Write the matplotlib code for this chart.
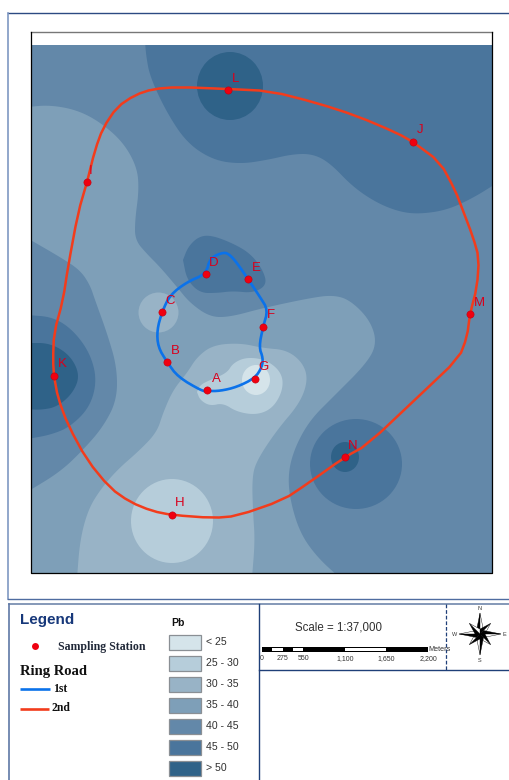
import numpy as np
import matplotlib
matplotlib.use("Agg")
import matplotlib.pyplot as plt
from matplotlib.patches import Rectangle, Ellipse, Polygon

SANS = "Liberation Sans"
SERIF = "Liberation Serif"

# ---- classes
class_labels = ["< 25", "25 - 30", "30 - 35", "35 - 40", "40 - 45", "45 - 50", "> 50"]
class_colors = ["#d5e4ea", "#b6cdda", "#98b3c6", "#7e9fb8", "#6388a9", "#4a759c", "#2f6288"]

# ---- map regions (image-pixel coordinates): class index, smooth boundary pieces joined by straight edges
top_45 = [(145, 40), (146, 55), (150, 77), (167, 113), (187, 143), (213, 160), (240, 164), (267, 160),
          (293, 154), (313, 154), (330, 163), (353, 187), (377, 203), (400, 212), (420, 214),
          (447, 210), (473, 198), (497, 183)]
top_45_close = [(497, 40)]
mid_35 = [(27, 107), (50, 105), (77, 110), (100, 122), (123, 142), (137, 167), (139, 190), (135, 220),
          (135, 240), (147, 254), (160, 267), (177, 287), (190, 303), (210, 317), (230, 317),
          (263, 308), (310, 298), (333, 295), (350, 300), (370, 320), (377, 343), (367, 363),
          (333, 397), (310, 420), (295, 447), (288, 473), (290, 500), (300, 533), (317, 557), (340, 578)]
mid_35_corner = [(27, 578)]
mid_35_left = [(27, 492), (60, 472), (83, 450), (103, 427), (117, 400), (117, 367),
               (107, 333), (95, 300), (90, 285), (80, 270), (60, 257), (27, 238)]
low_30 = [(77, 578), (80, 540), (88, 510), (100, 490), (117, 470), (140, 450), (157, 432), (163, 413),
          (173, 390), (187, 373), (197, 357), (213, 345), (240, 343), (263, 348), (287, 350),
          (303, 363), (308, 380), (300, 403), (277, 430), (257, 460), (252, 477), (253, 513),
          (255, 540), (252, 578)]
core_25 = [(197, 392), (200, 385), (210, 380), (227, 373), (233, 363), (247, 357), (267, 360), (282, 373),
           (283, 390), (273, 408), (257, 415), (237, 412), (223, 403), (210, 406), (200, 400), (197, 392)]
k_45 = [(27, 315), (53, 317), (73, 330), (90, 353), (97, 380), (90, 407), (70, 427), (50, 435), (27, 439)]
k_50 = [(27, 343), (50, 343), (70, 355), (80, 375), (73, 393), (57, 407), (40, 410), (27, 409)]
de_45 = [(183, 260), (188, 247), (198, 237), (210, 235), (230, 242), (250, 253), (263, 270), (267, 285),
         (253, 293), (233, 291), (217, 293), (200, 293), (187, 280), (183, 260)]
regions = [(5, [top_45], top_45_close), (3, [mid_35, mid_35_left], mid_35_corner), (5, [de_45], []),
           (2, [low_30], []), (1, [core_25], []), (5, [k_45], []), (6, [k_50], [])]
# ellipses: class index, cx, cy, rx, ry
blobs = [(6, 230, 86, 33, 34), (2, 158.5, 312.5, 20, 20), (0, 256, 380, 14, 15), (1, 172, 521, 41, 42),
         (5, 356, 464, 46, 45), (6, 345, 457, 14, 15)]

# ---- roads
ring_1st = [(207, 391), (220, 391), (237, 387), (255, 378), (262, 367), (263, 358), (259, 347), (263, 327),
            (268, 310), (260, 297), (248, 279), (237, 263), (230, 255), (224, 252), (210, 258), (206, 274),
            (187, 282), (170, 295), (162, 312), (157, 330), (158, 347), (167, 362), (178, 377), (202, 391), (207, 391)]
ring_2nd = [(87, 182), (95, 150), (103, 128), (117, 107), (135, 95), (153, 89), (178, 87), (228, 89), (270, 91),
            (317, 103), (357, 116), (397, 133), (413, 142), (440, 162), (455, 190), (462, 208), (473, 237),
            (479, 258), (477, 287), (470, 314), (467, 337), (459, 358), (420, 395), (367, 445), (345, 457),
            (307, 484), (283, 500), (237, 516), (213, 518), (172, 515), (152, 511), (130, 502), (110, 488),
            (87, 460), (68, 425), (58, 398), (54, 376), (53, 360), (54, 333), (63, 300), (68, 267), (78, 213), (87, 182)]

# ---- stations
station_names = ["A", "B", "C", "D", "E", "F", "G", "H", "I", "J", "K", "L", "M", "N"]
station_x = [207, 167, 162, 206, 248, 263, 255, 172, 87, 413, 54, 228, 470, 345]
station_y = [390, 362, 312, 274, 279, 327, 379, 515, 182, 142, 376, 90, 314, 457]
label_dx = [9, 8, 8, 8, 8, 8, 9, 8, 4, 7, 8, 8, 9, 8]
label_dy = [-11, -11, -11, -11, -11, -12, -12, -12, -11, -12, -12, -11, -11, -11]

# ---- scale bar
scale_values = [0, 275, 550, 1100, 1650, 2200]
scale_labels = ["0", "275", "550", "1,100", "1,650", "2,200"]
scale_white = [(137.5, 275), (412.5, 550), (1100, 1650)]


def chaikin(pts, n=3):
    p = np.asarray(pts, float)
    for _ in range(n):
        q = 0.75 * p[:-1] + 0.25 * p[1:]
        r = 0.25 * p[:-1] + 0.75 * p[1:]
        mid = np.empty((2 * len(q), 2))
        mid[0::2], mid[1::2] = q, r
        p = np.vstack([p[:1], mid, p[-1:]])
    return p


fig = plt.figure(figsize=(5.09, 7.80), dpi=100, facecolor="white")
ax = fig.add_axes([0, 0, 1, 1])
ax.set_xlim(0, 509)
ax.set_ylim(780, 0)
ax.axis("off")

# outer frame
NAVY = "#1f3f78"
ax.plot([8, 509], [13, 13], color="#2c4a82", lw=1.0)
ax.plot([8, 8], [13, 598.5], color="#7f98c2", lw=1.2)
ax.plot([8, 509], [598.5, 598.5], color="#4f6ca0", lw=1.0)

# map
MX0, MX1, MY0, MY1 = 31.5, 492.5, 44.5, 573
clip = Rectangle((MX0, MY0), MX1 - MX0, MY1 - MY0, transform=ax.transData)
ax.add_patch(Rectangle((MX0, MY0), MX1 - MX0, MY1 - MY0, fc=class_colors[4], ec="none", zorder=1.1))
z = 1.2
for idx, pieces, corners in regions:
    parts = [chaikin(pieces[0])]
    if corners:
        parts.append(np.asarray(corners, float))
    for extra in pieces[1:]:
        parts.append(chaikin(extra))
    pg = Polygon(np.vstack(parts), closed=True, fc=class_colors[idx], ec="none", zorder=z)
    ax.add_patch(pg)
    pg.set_clip_path(clip)
    z += 0.01
for idx, cx, cy, rx, ry in blobs:
    e = Ellipse((cx, cy), 2 * rx, 2 * ry, fc=class_colors[idx], ec="none", zorder=z)
    ax.add_patch(e)
    e.set_clip_path(clip)
    z += 0.01
ax.plot([MX0, MX1], [32, 32], color="#777777", lw=1.0, zorder=3)
ax.plot([MX0, MX0, MX1, MX1], [32, MY1, MY1, 32], color="black", lw=0.9, zorder=3)

# roads
r1 = chaikin(ring_1st, 2)
r2 = chaikin(ring_2nd, 1)
ax.plot(r1[:, 0], r1[:, 1], color="#0b72ea", lw=1.9, solid_joinstyle="round", zorder=4)
ax.plot(r2[:, 0], r2[:, 1], color="#f23c1c", lw=1.8, solid_joinstyle="round", zorder=4)

# stations
ax.plot(station_x, station_y, ls="none", marker="o", ms=5.2, mfc="#f00010", mec="#c00010", mew=0.4, zorder=5)
for n, sx_, sy_, dx, dy in zip(station_names, station_x, station_y, label_dx, label_dy):
    ax.text(sx_ + dx, sy_ + dy, n, color="#d8001c", family=SANS, fontsize=9.5, ha="center", va="center", zorder=6)

# layout panels
ax.plot([9, 509], [604, 604], color="#6f86ac", lw=1.2)
ax.plot([9.5, 9.5], [604, 780], color="#5f78a6", lw=1.2)
ax.plot([259.5, 259.5], [604, 780], color=NAVY, lw=1.0)
ax.plot([259.5, 509], [670, 670], color=NAVY, lw=1.0)
ax.plot([446.5, 446.5], [604, 670], color=NAVY, lw=0.9, ls=(0, (3, 1.5)))

# legend
ax.text(20, 620, "Legend", family=SANS, weight="bold", fontsize=11, color="#17387a", va="center")
ax.plot([35.5], [646], marker="o", ms=5, color="#ee0010", mec="none")
ax.text(58, 647, "Sampling Station", family=SERIF, weight="bold", fontsize=8.6, color="#202838", va="center")
ax.text(20, 671, "Ring Road", family=SERIF, weight="bold", fontsize=10.5, color="#101010", va="center")
ax.plot([20, 50], [689, 689], color="#0b72ea", lw=1.9, solid_capstyle="butt")
ax.plot([20, 49], [709, 709], color="#f23c1c", lw=1.9, solid_capstyle="butt")
ax.text(53, 689, "1st", family=SERIF, weight="bold", fontsize=8.4, color="#101010", va="center")
ax.text(52, 708, "2nd", family=SERIF, weight="bold", fontsize=8.4, color="#101010", va="center")

ax.text(171, 623, "Pb", family=SANS, weight="bold", fontsize=7.5, color="#101010", va="center")
for i, (lab, col) in enumerate(zip(class_labels, class_colors)):
    top = 634.5 + i * 21
    ax.add_patch(Rectangle((169.5, top), 31.5, 15, fc=col, ec="#8a8f94", lw=0.9))
    ax.text(206, top + 7.5, lab, family=SANS, fontsize=7.6, color="#303030", va="center")

# scale
ax.text(339, 628, "Scale = 1:37,000", family=SANS, fontsize=8.3, color="#303030", ha="center", va="center")
SX0, SW = 262, 166
sx = [SX0 + v * SW / scale_values[-1] for v in scale_values]
ax.add_patch(Rectangle((SX0, 647), SW, 5.4, fc="black", ec="none"))
for a, b in scale_white:
    xa, xb = SX0 + a * SW / scale_values[-1], SX0 + b * SW / scale_values[-1]
    ax.add_patch(Rectangle((xa, 648.2), xb - xa, 3.0, fc="white", ec="none"))
for xp, lab in zip(sx, scale_labels):
    ax.text(xp, 659, lab, family=SANS, fontsize=5, color="#333333", ha="center", va="center")
ax.text(428.5, 649.5, "Meters", family=SANS, fontsize=5.2, color="#333333", va="center")

# north arrow
CX, CY = 480, 634
for k in range(8):
    ang = np.deg2rad(45 * k)
    L = 21 if k % 2 == 0 else 15
    d = np.array([np.sin(ang), -np.cos(ang)])
    n_ = np.array([d[1], -d[0]])
    ctr = np.array([CX, CY])
    tip = ctr + L * d
    base_a = ctr + 3.5 * n_ + 3.5 * d
    base_b = ctr - 3.5 * n_ + 3.5 * d
    ax.add_patch(Polygon([ctr, tip, base_a], fc="black", ec="black", lw=0.3, zorder=3))
    ax.add_patch(Polygon([ctr, tip, base_b], fc="white", ec="black", lw=0.3, zorder=3))
for lab, dx, dy in [("N", 0, -26), ("S", 0, 26), ("E", 24, 0), ("W", -25, 0)]:
    ax.text(CX + dx, CY + dy, lab, family=SANS, fontsize=4, color="#333333", ha="center", va="center")

fig.savefig("out.png", dpi=100, facecolor="white")
